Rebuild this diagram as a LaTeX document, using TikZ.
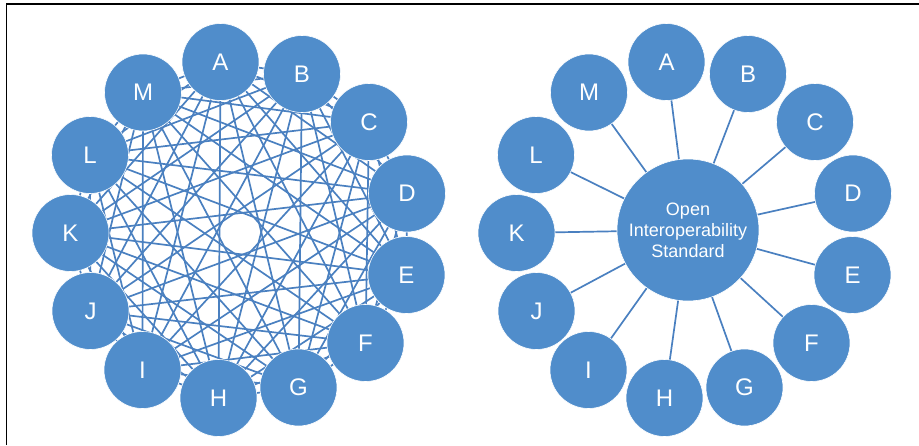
\documentclass[tikz,border=0pt]{standalone}
\usepackage{fontspec}
\setmainfont{Liberation Sans}
\usetikzlibrary{backgrounds}
\definecolor{circblue}{RGB}{80,141,203}
\definecolor{lineblue}{RGB}{74,128,192}
\begin{document}
\begin{tikzpicture}[x=1pt,y=-1pt,
  peer/.style={circle,fill=circblue,draw=white,line width=0.6pt,minimum size=77pt,inner sep=0pt,text=white,font=\fontsize{24}{28}\selectfont},
  hub/.style={circle,fill=circblue,draw=white,line width=0.6pt,minimum size=142pt,inner sep=0pt,text=white,align=center,font=\fontsize{18}{21}\selectfont},
  link/.style={draw=lineblue,line width=1.7pt}]
\useasboundingbox (0,0) rectangle (919,445);
\draw[line width=1.8pt,black] (6.5,445) -- (6.5,4) -- (919,4);
% left: mesh
\foreach \n/\t/\x/\y in {1/A/220.5/62,2/B/302/74,3/C/369/122,4/D/407/193.5,5/E/406.5/275,6/F/365.5/343,7/G/298.5/387.5,8/H/218.5/398,9/I/142.5/370,10/J/90.5/311,11/K/70.5/233,12/L/90/155,13/M/143/92.5}{
  \node[peer] (L\n) at (\x,\y) {\t};
  \node[peer] (R\n) at (\x+446,\y) {\t};
}
\node[hub] (hub) at (688,230) {Open\\Interoperability\\Standard};
\begin{pgfonlayer}{background}
\foreach \i in {1,...,12}{
  \pgfmathtruncatemacro\s{\i+1}
  \foreach \j in {\s,...,13}{
    \draw[link] (L\i.center) -- (L\j.center);
  }
}
\foreach \i in {1,...,13}{
  \draw[link] (hub.center) -- (R\i.center);
}
\end{pgfonlayer}
\end{tikzpicture}
\end{document}
